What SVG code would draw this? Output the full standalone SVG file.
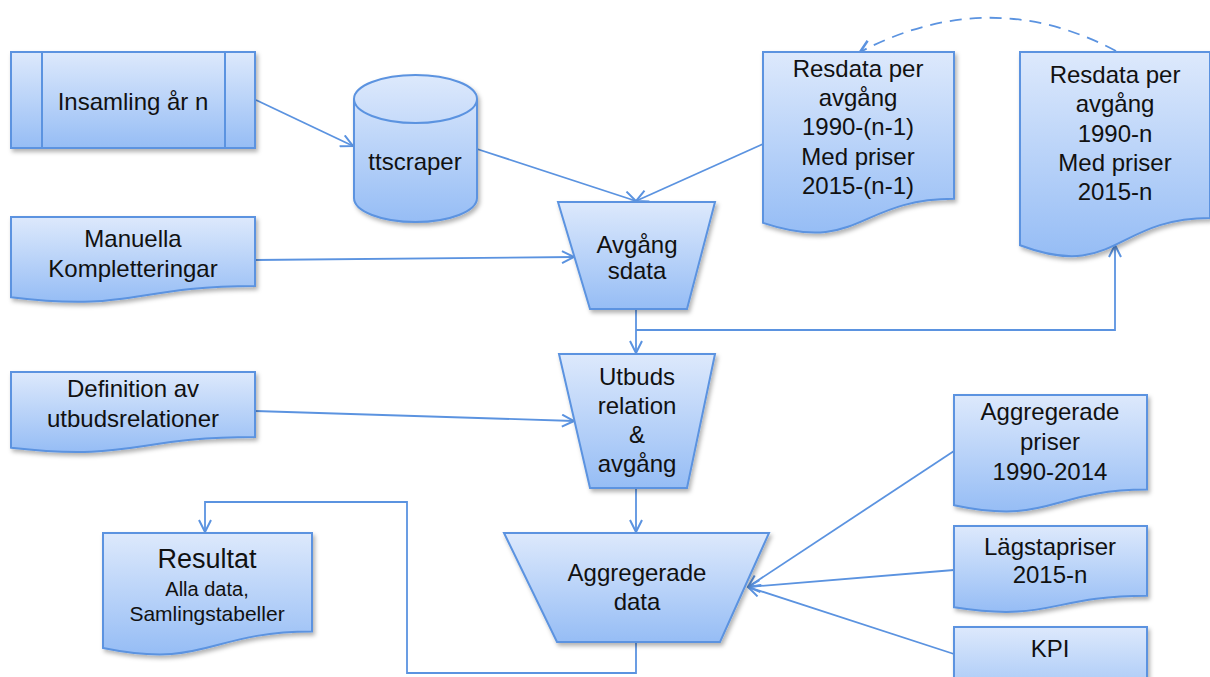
<svg xmlns="http://www.w3.org/2000/svg" width="1210" height="677" viewBox="0 0 1210 677">
<defs>
<linearGradient id="fillG" x1="0" y1="0" x2="0" y2="1">
<stop offset="0" stop-color="#dde9fc"/>
<stop offset="1" stop-color="#96bdf5"/>
</linearGradient>
<filter id="sh" x="-10%" y="-10%" width="130%" height="140%">
<feDropShadow dx="2" dy="3" stdDeviation="2" flood-color="#000" flood-opacity="0.3"/>
</filter>
<marker id="arr" markerUnits="userSpaceOnUse" markerWidth="14" markerHeight="14" viewBox="0 0 14 14" refX="13" refY="7" orient="auto">
<path d="M1,1 L13,7 L1,13" fill="none" stroke="#5b93e0" stroke-width="2"/>
</marker>
<marker id="arrD" markerUnits="userSpaceOnUse" markerWidth="16" markerHeight="16" viewBox="0 0 16 16" refX="14" refY="8" orient="auto">
<path d="M2,1.5 L14,8 L2,14.5" fill="none" stroke="#5b93e0" stroke-width="2.5"/>
</marker>
</defs>
<style>
.s{fill:url(#fillG);stroke:#5b93e0;stroke-width:2;filter:url(#sh)}
.ln{fill:none;stroke:#5b93e0;stroke-width:2}
.c{fill:none;stroke:#5b93e0;stroke-width:1.8}
text{font-family:"Liberation Sans",Arial,sans-serif;font-size:24px;fill:#111;text-anchor:middle}
</style>
<rect width="1210" height="677" fill="#fff"/>

<g id="connectors">
<path class="c" d="M256,100 L353,146" marker-end="url(#arr)"/>
<path class="c" d="M477,149 L636,201" marker-end="url(#arr)"/>
<path class="c" d="M763,144 L636,201" marker-end="url(#arr)"/>
<path class="c" d="M255,260 L574,257" marker-end="url(#arr)"/>
<path class="c" d="M636,309 L636,353" marker-end="url(#arr)"/>
<path class="c" d="M636,330 H1115 V245" marker-end="url(#arr)"/>
<path class="c" d="M255,411 L574,421" marker-end="url(#arr)"/>
<path class="c" d="M636,488 L636,532" marker-end="url(#arr)"/>
<path class="c" d="M636,642 V673 H407 V502 H205 V532" marker-end="url(#arr)"/>
<path class="c" d="M954,451 L748,587" marker-end="url(#arr)"/>
<path class="c" d="M954,570 L748,587" marker-end="url(#arr)"/>
<path class="c" d="M954,654 L748,587" marker-end="url(#arr)"/>
<path class="c" d="M1116,51 Q990,-16 860,52" stroke-width="3" stroke-dasharray="12,8" marker-end="url(#arrD)"/>
</g>

<g id="insamling">
<rect class="s" x="11" y="52" width="244" height="96"/>
<path class="ln" d="M42,52 V148 M225,52 V148"/>
<text x="133" y="110">Insamling år n</text>
</g>

<g id="ttscraper">
<path class="s" d="M354,99 A61.5,24 0 0,1 477,99 V198 A61.5,24 0 0,1 354,198 Z"/>
<path class="ln" d="M354,99 A61.5,24 0 0,0 477,99"/>
<text x="415" y="170">ttscraper</text>
</g>

<g id="resdata1">
<path class="s" d="M763,52 H954 V198.8 C858.5,198.8 858.5,254.6 763,222.9 Z"/>
<text x="858" y="77">Resdata per</text>
<text x="858" y="106">avgång</text>
<text x="858" y="135">1990-(n-1)</text>
<text x="858" y="165">Med priser</text>
<text x="858" y="194">2015-(n-1)</text>
</g>

<g id="resdata2">
<path class="s" d="M1020,52 H1210 V218 C1115,218 1115,281.1 1020,245.3 Z"/>
<text x="1115" y="83">Resdata per</text>
<text x="1115" y="112">avgång</text>
<text x="1115" y="142">1990-n</text>
<text x="1115" y="171">Med priser</text>
<text x="1115" y="200">2015-n</text>
</g>

<g id="manuella">
<path class="s" d="M11,217 H255 V286 C133,286 133,312.2 11,297.3 Z"/>
<text x="133" y="247">Manuella</text>
<text x="133" y="277">Kompletteringar</text>
</g>

<g id="avgangsdata">
<path class="s" d="M558,202 H715 L687,309 H590 Z"/>
<text x="637" y="253">Avgång</text>
<text x="637" y="279">sdata</text>
</g>

<g id="definition">
<path class="s" d="M11,372 H255 V437 C133,437 133,461.7 11,447.7 Z"/>
<text x="133" y="397">Definition av</text>
<text x="133" y="427">utbudsrelationer</text>
</g>

<g id="utbuds">
<path class="s" d="M559,354 H715 L687,488 H590 Z"/>
<text x="637" y="385">Utbuds</text>
<text x="637" y="414">relation</text>
<text x="637" y="443">&amp;</text>
<text x="637" y="472">avgång</text>
</g>

<g id="aggdata">
<path class="s" d="M504,533 H769 L720,642 H557 Z"/>
<text x="637" y="581">Aggregerade</text>
<text x="637" y="610">data</text>
</g>

<g id="resultat">
<path class="s" d="M103,533 H312 V631.6 C207.5,631.6 207.5,669.2 103,647.9 Z"/>
<text x="207" y="568" style="font-size:27px">Resultat</text>
<text x="207" y="596" style="font-size:20px">Alla data,</text>
<text x="207" y="621" style="font-size:21px">Samlingstabeller</text>
</g>

<g id="aggpriser">
<path class="s" d="M954,395 H1147 V489.6 C1050.5,489.6 1050.5,525.6 954,505.2 Z"/>
<text x="1050" y="420">Aggregerade</text>
<text x="1050" y="450">priser</text>
<text x="1050" y="480">1990-2014</text>
</g>

<g id="lagstapriser">
<path class="s" d="M954,526 H1147 V595.8 C1050.5,595.8 1050.5,622.3 954,607.3 Z"/>
<text x="1050" y="555">Lägstapriser</text>
<text x="1050" y="583">2015-n</text>
</g>

<g id="kpi">
<path class="s" d="M954,627 H1147 V696.8 C1050.5,696.8 1050.5,723.3 954,708.3 Z"/>
<text x="1050" y="657">KPI</text>
</g>
</svg>
